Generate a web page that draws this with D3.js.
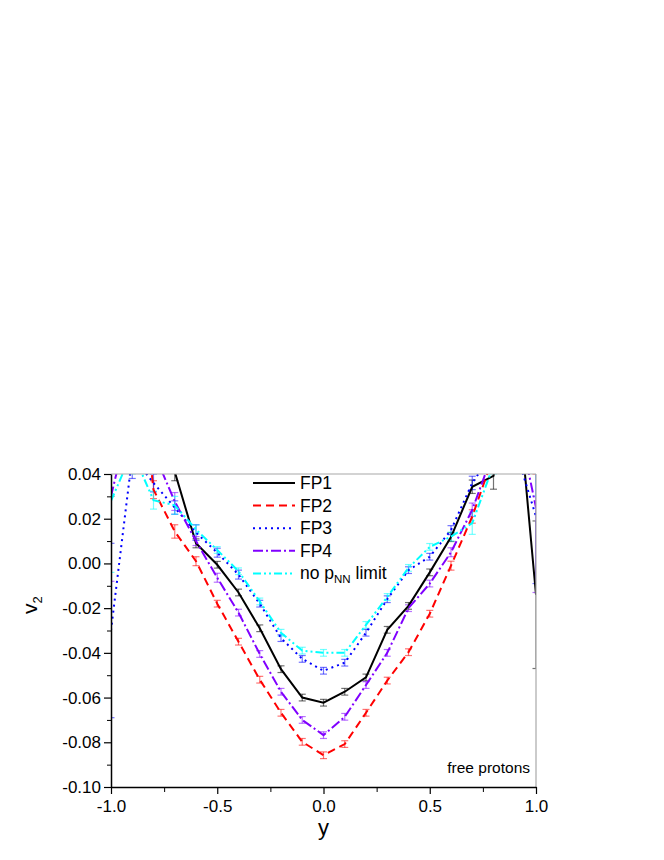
<!DOCTYPE html>
<html>
<head>
<meta charset="utf-8">
<script src="https://cdn.jsdelivr.net/npm/d3@7"></script>
<style>
  body { margin: 0; background: #fff; }
  text { font-family: "Liberation Sans", Arial, sans-serif; }
</style>
</head>
<body>
<script>
// rapidity points
var rapidity = [-1.0, -0.9, -0.8, -0.7, -0.6, -0.5, -0.4, -0.3, -0.2, -0.1, 0.0,
                0.1, 0.2, 0.3, 0.4, 0.5, 0.6, 0.7, 0.8, 0.9, 1.0];

var fp1 = [0.06, 0.08, 0.065, 0.041, 0.009, -0.0006, -0.013, -0.029, -0.0473, -0.060, -0.0623,
           -0.0574, -0.051, -0.0297, -0.019, -0.004, 0.0118, 0.0343, 0.0392, 0.09, -0.014];
var fp1Err = [0.03, 0.01, 0.008, 0.004, 0.002, 0.0015, 0.0015, 0.0015, 0.0015, 0.0015, 0.0015,
              0.0015, 0.0015, 0.0015, 0.0015, 0.0015, 0.002, 0.003, 0.006, 0.01, 0.033];

var fp2 = [0.08, 0.12, 0.033, 0.0143, 0.001, -0.018, -0.035, -0.052, -0.0668, -0.0798, -0.0858,
           -0.0808, -0.0668, -0.0524, -0.0397, -0.0225, -0.001, 0.021, 0.048, 0.07, 0.06];
var fp2Err = [0.02, 0.01, 0.004, 0.003, 0.002, 0.0015, 0.0015, 0.0015, 0.0015, 0.0015, 0.0015,
              0.0015, 0.0015, 0.0015, 0.0015, 0.0015, 0.002, 0.003, 0.004, 0.01, 0.02];

var fp3 = [-0.03, 0.048, 0.036, 0.025, 0.0138, 0.0048, -0.005, -0.018, -0.0334, -0.0427, -0.048,
           -0.0444, -0.031, -0.016, -0.003, 0.003, 0.0149, 0.036, 0.05, 0.052, 0.021];
var fp3Err = [0.039, 0.01, 0.004, 0.003, 0.0035, 0.002, 0.002, 0.0015, 0.0015, 0.0015, 0.0015,
              0.0015, 0.0015, 0.0015, 0.0015, 0.0015, 0.002, 0.003, 0.004, 0.01, 0.03];

var fp4 = [0.03, 0.07, 0.05, 0.0277, 0.010, -0.0064, -0.022, -0.0405, -0.0574, -0.070, -0.0768,
           -0.0686, -0.0544, -0.040, -0.020, -0.009, 0.005, 0.024, 0.05, 0.07, 0.025];
var fp4Err = [0.038, 0.01, 0.005, 0.004, 0.002, 0.002, 0.0015, 0.0015, 0.0015, 0.0015, 0.0015,
              0.0015, 0.0015, 0.0015, 0.0015, 0.0015, 0.002, 0.003, 0.004, 0.01, 0.038];

var noLimit = [0.028, 0.05, 0.0283, 0.026, 0.0152, 0.006, -0.0035, -0.017, -0.031, -0.039, -0.040,
               -0.040, -0.0275, -0.015, -0.002, 0.0074, 0.012, 0.018, 0.044, 0.07, 0.05];
var noLimitErr = [0.032, 0.01, 0.004, 0.004, 0.002, 0.0015, 0.0015, 0.0015, 0.0015, 0.0015, 0.0015,
                  0.0015, 0.0015, 0.0015, 0.0015, 0.0015, 0.002, 0.005, 0.004, 0.01, 0.02];

var seriesNames = ["FP1", "FP2", "FP3", "FP4", "no limit"];
var xTicks = [-1.0, -0.5, 0.0, 0.5, 1.0];
var yTicks = [-0.10, -0.08, -0.06, -0.04, -0.02, 0.00, 0.02, 0.04];

var width = 664,
    height = 860;

var svg = d3.select("body").append("svg")
    .attr("width", width)
    .attr("height", height);

var x = d3.scaleLinear().domain([-1, 1]).range([111, 536]);
var y = d3.scaleLinear().domain([-0.10, 0.04]).range([787, 474]);

var series = [
  {name: seriesNames[0], vals: fp1, err: fp1Err, color: "#000000", dash: null},
  {name: seriesNames[1], vals: fp2, err: fp2Err, color: "#ff0000", dash: "8,5"},
  {name: seriesNames[2], vals: fp3, err: fp3Err, color: "#0000ff", dash: "2,4"},
  {name: seriesNames[3], vals: fp4, err: fp4Err, color: "#8000ff", dash: "10,3,2,3"},
  {name: seriesNames[4], vals: noLimit, err: noLimitErr, color: "#00ffff", dash: "8,3,2,3,2,3"}
];

svg.append("clipPath").attr("id", "plotclip")
  .append("rect")
    .attr("x", x(-1)).attr("y", y(0.04))
    .attr("width", x(1) - x(-1)).attr("height", y(-0.10) - y(0.04));

var plot = svg.append("g").attr("clip-path", "url(#plotclip)");

var line = d3.line()
    .x(function(d, i){ return x(rapidity[i]); })
    .y(function(d){ return y(d); });

// error bars first, then the curves
series.forEach(function(s){
  var g = plot.append("g")
      .attr("stroke", s.color)
      .attr("stroke-opacity", 0.55)
      .attr("stroke-width", 1.2);
  s.vals.forEach(function(v, i){
    var cx = x(rapidity[i]);
    var top = y(v + s.err[i]), bot = y(v - s.err[i]);
    g.append("line").attr("x1", cx).attr("x2", cx).attr("y1", top).attr("y2", bot);
    g.append("line").attr("x1", cx - 3.5).attr("x2", cx + 3.5).attr("y1", top).attr("y2", top);
    g.append("line").attr("x1", cx - 3.5).attr("x2", cx + 3.5).attr("y1", bot).attr("y2", bot);
  });
});

series.forEach(function(s){
  plot.append("path")
      .datum(s.vals)
      .attr("fill", "none")
      .attr("stroke", s.color)
      .attr("stroke-width", 2)
      .attr("stroke-dasharray", s.dash)
      .attr("d", line);
});

// frame: top and right in gray
svg.append("line").attr("x1", x(-1)).attr("x2", x(1)).attr("y1", y(0.04)).attr("y2", y(0.04))
    .attr("stroke", "#a8a8a8").attr("stroke-width", 1.2);
svg.append("line").attr("x1", x(1)).attr("x2", x(1)).attr("y1", y(0.04)).attr("y2", y(-0.10))
    .attr("stroke", "#a8a8a8").attr("stroke-width", 1.2);

var fmtY = function(d){ return d3.format(".2f")(d).replace("\u2212", "-"); };
var fmtX = function(d){ return d3.format(".1f")(d).replace("\u2212", "-"); };

// bottom axis
var xAxis = svg.append("g")
    .attr("transform", "translate(0," + y(-0.10) + ")")
    .call(d3.axisBottom(x).tickValues(xTicks).tickFormat(fmtX).tickSize(7).tickSizeOuter(0));
svg.append("g")
    .attr("transform", "translate(0," + y(-0.10) + ")")
    .call(d3.axisBottom(x).tickValues([-0.75, -0.25, 0.25, 0.75]).tickFormat("").tickSize(5).tickSizeOuter(0))
    .select(".domain").remove();

// left axis
var yAxis = svg.append("g")
    .attr("transform", "translate(" + x(-1) + ",0)")
    .call(d3.axisLeft(y).tickValues(yTicks).tickFormat(fmtY).tickSize(7).tickSizeOuter(0));
svg.append("g")
    .attr("transform", "translate(" + x(-1) + ",0)")
    .call(d3.axisLeft(y).tickValues([-0.09, -0.07, -0.05, -0.03, -0.01, 0.01, 0.03]).tickFormat("").tickSize(4).tickSizeOuter(0))
    .select(".domain").remove();

[xAxis, yAxis].forEach(function(a){
  a.select(".domain").attr("stroke", "#000").attr("stroke-width", 1.5);
  a.selectAll(".tick line").attr("stroke", "#000").attr("stroke-width", 1.2);
  a.selectAll(".tick text")
      .attr("font-family", "Liberation Sans, Arial, sans-serif")
      .attr("font-size", 17).attr("fill", "#000");
});
xAxis.selectAll(".tick text").attr("dy", "0.88em");
yAxis.selectAll(".tick text").attr("x", -10);

// axis titles
svg.append("text")
    .attr("x", x(0)).attr("y", 835)
    .attr("text-anchor", "middle")
    .attr("font-size", 22)
    .text("y");

var yl = svg.append("text")
    .attr("transform", "translate(37,614) rotate(-90)")
    .attr("font-size", 21);
yl.append("tspan").text("v");
yl.append("tspan").attr("dy", 5).attr("font-size", 13).text("2");

// legend
var legend = svg.append("g").attr("class", "legend");
series.forEach(function(s, i){
  var ly = 483 + i * 22.6;
  legend.append("line")
      .attr("x1", 253).attr("x2", 295)
      .attr("y1", ly).attr("y2", ly)
      .attr("stroke", s.color)
      .attr("stroke-width", 2)
      .attr("stroke-dasharray", s.dash);
  var t = legend.append("text")
      .attr("x", 300).attr("y", ly + 6)
      .attr("font-size", 17.5);
  if (i < 4) {
    t.text(s.name);
  } else {
    t.append("tspan").text("no p");
    t.append("tspan").attr("dy", 4).attr("font-size", 11.5).text("NN");
    t.append("tspan").attr("dy", -4).text(" limit");
  }
});

svg.append("text")
    .attr("x", 530).attr("y", 773)
    .attr("text-anchor", "end")
    .attr("font-size", 15.5)
    .text("free protons");
</script>
</body>
</html>
